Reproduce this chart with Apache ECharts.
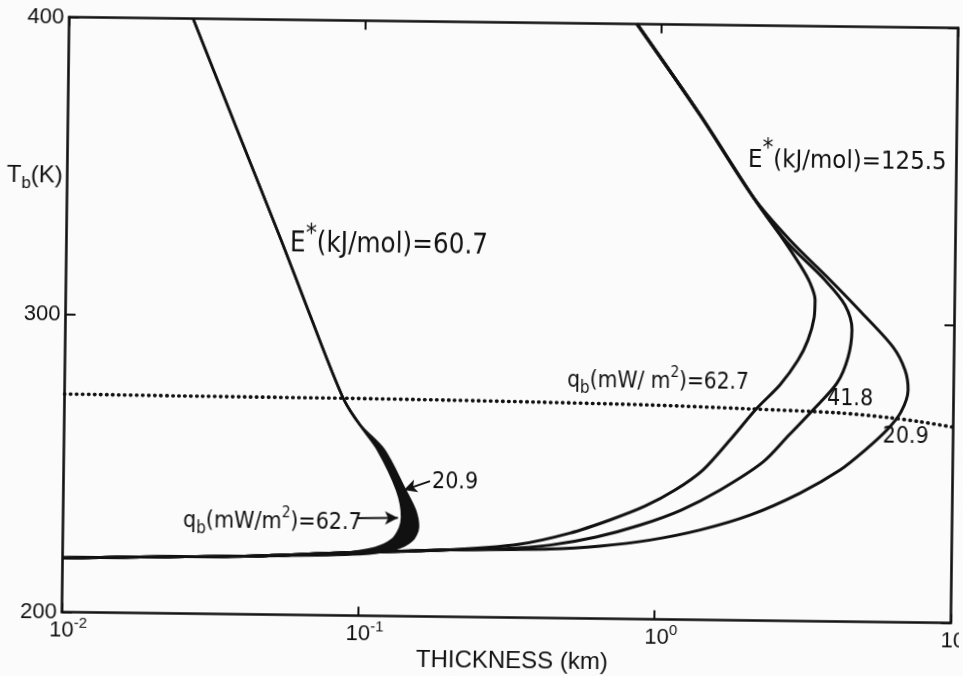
<!DOCTYPE html>
<html><head><meta charset="utf-8">
<script src="https://cdn.jsdelivr.net/npm/echarts@6/dist/echarts.min.js"></script>
<style>
html,body{margin:0;padding:0;background:#fafbfa;overflow:hidden;}
#chart{width:963px;height:676px;transform:rotate(0.7deg);transform-origin:510px 320px;}
</style></head><body><div id="chart"></div>
<script>
// Thickness (km) vs basal temperature T_b (K)
var e60_q62_7 = [[0.0262,400],[0.0373,362.8],[0.0530,326.0],[0.0658,302.5],[0.0871,273.1],[0.0996,264.1],[0.1148,255.8],[0.1336,242.4],[0.1393,233.3],[0.1371,229.6],[0.1291,225.6],[0.1132,222.8],[0.0863,221.0],[0.0429,219.6],[0.0197,218.9],[0.01,218.2]];
var e60_q20_9 = [[0.0262,400],[0.0373,362.8],[0.0530,326.0],[0.0658,302.5],[0.0871,273.1],[0.0996,264.1],[0.1202,255.8],[0.1422,242.4],[0.1538,235.7],[0.1578,230.1],[0.1507,225.6],[0.1321,222.6],[0.1008,220.7],[0.0429,219.6],[0.0197,218.9],[0.01,218.2]];
var e125_q62_7 = [[0.825,400],[1.358,369.7],[2.065,342.4],[2.557,329.7],[2.995,319.7],[3.243,313.7],[3.378,308.0],[3.357,301.9],[3.208,294.5],[2.976,287.7],[2.594,279.3],[2.174,271.4],[1.768,260.6],[1.437,250.4],[1.158,243.5],[0.919,238.0],[0.7006,233.2],[0.514,228.6],[0.349,224.7],[0.2028,222.5],[0.0863,221.0],[0.0429,219.6],[0.0197,218.9],[0.01,218.2]];
var e125_q41_8 = [[0.825,400],[1.358,369.7],[2.065,342.4],[2.659,328.0],[3.641,314.7],[4.264,306.4],[4.512,298.1],[4.388,288.9],[4.040,280.2],[3.359,271.0],[2.795,262.5],[2.289,253.3],[1.644,243.7],[1.216,236.8],[0.8855,231.6],[0.6295,227.4],[0.4406,224.5],[0.299,223.0],[0.2028,222.5],[0.0863,221.0],[0.0429,219.6],[0.0197,218.9],[0.01,218.2]];
var e125_q20_9 = [[0.825,400],[1.358,369.7],[2.065,342.4],[2.764,328.0],[3.786,314.8],[4.870,303.8],[6.217,292.5],[6.839,284.8],[7.017,278.1],[6.656,270.7],[5.979,264.6],[5.051,257.7],[4.166,250.9],[3.060,243.0],[2.080,235.4],[1.413,230.2],[0.958,226.6],[0.650,224.4],[0.441,223.2],[0.2028,222.5],[0.0863,221.0],[0.0429,219.6],[0.0197,218.9],[0.01,218.2]];
var dottedLine = [[0.01,273.3],[0.0286,273.1],[0.0919,273.0],[0.2002,272.8],[0.4024,272.5],[0.946,272.0],[2.059,271.1],[4.143,270.1],[6.115,268.7],[7.72,267.5],[10,265.8]];
var xTickExp = ['-2','-1','0','1'];
var yTicks = [200,300,400];
var arrowLines = [[[0.1725,245.5],[0.1409,242.4]],[[0.0981,232.8],[0.1349,233.0]]];

var band = e60_q20_9.slice(5,13).concat(e60_q62_7.slice(5,13).reverse());

var NF = '"DejaVu Sans Condensed","Liberation Sans",sans-serif';
var RF = '"Liberation Sans",Arial,sans-serif';
var INK = '#111';

function lineSeries(data, w){
  return {type:'line', data:data, symbol:'none', smooth:0.3, clip:true, z:3,
    lineStyle:{color:INK, width:w}, silent:true};
}

var chart = echarts.init(document.getElementById('chart'));
var series = [
  {type:'custom', coordinateSystem:'cartesian2d', data:[[0.1,250]], silent:true, z:2, clip:true,
   renderItem:function(params, api){
     return {type:'polygon', shape:{points: band.map(function(p){return api.coord(p);}), smooth:0.3}, style:{fill:INK}};
   }},
  lineSeries(e60_q62_7, 2.6),
  lineSeries(e60_q20_9, 2.6),
  lineSeries(e125_q62_7, 3),
  lineSeries(e125_q41_8, 3),
  lineSeries(e125_q20_9, 3),
  {type:'line', data:dottedLine, symbol:'none', smooth:0.3, z:3, silent:true,
   lineStyle:{color:INK, width:3.6, type:[0.5,5.5], cap:'round'},
   markLine:{silent:true, symbol:['none','arrow'], symbolSize:[10,13], animation:false,
     lineStyle:{color:INK, width:2, type:'solid'}, label:{show:false},
     data: arrowLines.map(function(a){return [{coord:a[0]},{coord:a[1]}];})}}
];

var axisLineStyle = {color:INK, width:2.6};
var option = {
  backgroundColor:'#fafbfa',
  animation:false,
  grid:{left:65.5, top:22.5, width:889, height:595, outerBoundsMode:'none', containLabel:false},
  xAxis:[
    {type:'log', logBase:10, min:0.01, max:10, position:'bottom',
     axisLine:{show:true, lineStyle:axisLineStyle},
     axisTick:{show:true, inside:true, length:9, lineStyle:{color:INK, width:2}},
     splitLine:{show:false}, minorTick:{show:false},
     axisLabel:{margin:4, color:INK, lineHeight:28,
       formatter:function(v){ var i = Math.round(Math.log10(v)) + 2; return '{sp| }{b|10}{e|' + xTickExp[i] + '}'; },
       rich:{sp:{width:13, fontSize:10}, b:{fontSize:22, fontFamily:RF, color:INK, lineHeight:28},
             e:{fontSize:15, fontFamily:RF, color:INK, verticalAlign:'top', lineHeight:15}}}},
    {type:'log', logBase:10, min:0.01, max:10, position:'top',
     axisLine:{show:true, lineStyle:axisLineStyle},
     axisTick:{show:true, inside:true, length:9, lineStyle:{color:INK, width:2}},
     splitLine:{show:false}, axisLabel:{show:false}}
  ],
  yAxis:[
    {type:'value', min:yTicks[0], max:yTicks[yTicks.length-1], interval:100, position:'left',
     axisLine:{show:true, lineStyle:axisLineStyle},
     axisTick:{show:true, inside:true, length:10, lineStyle:{color:INK, width:2}},
     splitLine:{show:false},
     axisLabel:{margin:5, color:INK, fontSize:22, fontFamily:RF}},
    {type:'value', min:yTicks[0], max:yTicks[yTicks.length-1], interval:100, position:'right',
     axisLine:{show:true, lineStyle:axisLineStyle},
     axisTick:{show:true, inside:true, length:10, lineStyle:{color:INK, width:2}},
     splitLine:{show:false}, axisLabel:{show:false}}
  ],
  series:series,
  graphic:[
    {type:'text', x:289, y:247, z:10, style:{text:'E{s|*}(kJ/mol)=60.7', fill:INK, font:'27.5px '+NF, lineHeight:46, align:'left', verticalAlign:'middle',
      rich:{s:{fontSize:25, fontFamily:NF, lineHeight:25, verticalAlign:'top', fill:INK}}}},
    {type:'text', x:746, y:157, z:10, style:{text:'E{s|*}(kJ/mol)=125.5', fill:INK, font:'25.5px '+NF, lineHeight:46, align:'left', verticalAlign:'middle',
      rich:{s:{fontSize:24, fontFamily:NF, lineHeight:24, verticalAlign:'top', fill:INK}}}},
    {type:'text', x:568, y:380, z:10, style:{text:'q{b|b}(mW/ m{s|2})=62.7', fill:INK, font:'22.5px '+NF, lineHeight:32, align:'left', verticalAlign:'middle',
      rich:{b:{fontSize:17, fontFamily:NF, lineHeight:17, verticalAlign:'bottom', fill:INK}, s:{fontSize:15, fontFamily:NF, lineHeight:15, verticalAlign:'top', fill:INK}}}},
    {type:'text', x:185.5, y:525, z:10, style:{text:'q{b|b}(mW/m{s|2})=62.7', fill:INK, font:'23px '+NF, lineHeight:32, align:'left', verticalAlign:'middle',
      rich:{b:{fontSize:17, fontFamily:NF, lineHeight:17, verticalAlign:'bottom', fill:INK}, s:{fontSize:15, fontFamily:NF, lineHeight:15, verticalAlign:'top', fill:INK}}}},
    {type:'text', x:828, y:395, z:10, style:{text:'41.8', fill:INK, font:'23px '+NF, align:'left', verticalAlign:'middle'}},
    {type:'text', x:884, y:432.5, z:10, style:{text:'20.9', fill:INK, font:'23px '+NF, align:'left', verticalAlign:'middle'}},
    {type:'text', x:434, y:483, z:10, style:{text:'20.9', fill:INK, font:'23px '+NF, align:'left', verticalAlign:'middle'}},
    {type:'text', x:516, y:661, z:10, style:{text:'THICKNESS (km)', fill:INK, font:'24px '+RF, align:'center', verticalAlign:'middle'}},
    {type:'text', x:5, y:181, z:10, style:{text:'T{b|b}(K)', fill:INK, font:'24px '+RF, lineHeight:34, align:'left', verticalAlign:'middle',
      rich:{b:{fontSize:17, fontFamily:RF, lineHeight:17, verticalAlign:'bottom', fill:INK}}}}
  ]
};
chart.setOption(option);
</script></body></html>
